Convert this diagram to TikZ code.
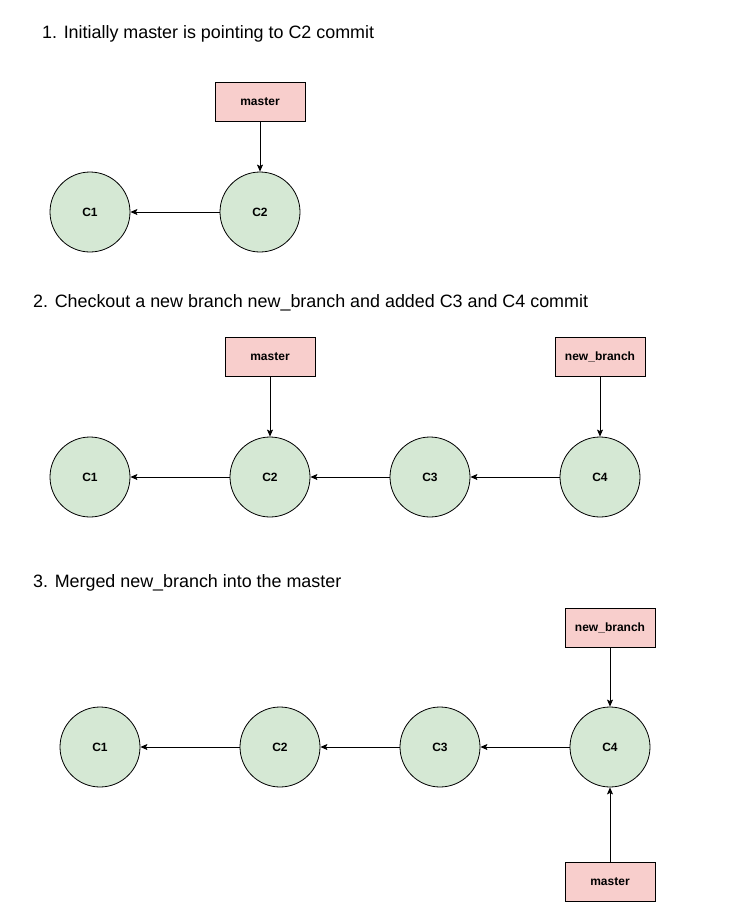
\documentclass[tikz,border=0pt]{standalone}
\usepackage{fontspec}
\setmainfont{Liberation Sans}
\usetikzlibrary{arrows.meta}
\definecolor{pinkfill}{HTML}{F8CECC}
\definecolor{greenfill}{HTML}{D5E8D4}
\begin{document}
\begin{tikzpicture}[x=1pt,y=-1pt,
  commit/.style={circle,draw=black,fill=greenfill,line width=0.8pt,minimum size=80pt,inner sep=0pt,font=\fontsize{12}{14}\selectfont\bfseries},
  branch/.style={rectangle,draw=black,fill=pinkfill,line width=0.8pt,minimum width=90pt,minimum height=39pt,inner sep=0pt,font=\fontsize{12}{14}\selectfont\bfseries},
  title/.style={anchor=west,inner sep=0pt,font=\fontsize{17.9}{21}\selectfont},
  link/.style={line width=0.8pt,-{Stealth[length=7pt,width=6pt,inset=1.5pt]}}]
\useasboundingbox (0,0) rectangle (731,922);
% Section 1
\node[title] (t1) at (42,33.5) {1. Initially master is pointing to C2 commit};
\node[branch] (m1) at (260,101.5) {master};
\node[commit] (a1) at (90,212) {C1};
\node[commit] (a2) at (260,212) {C2};
\draw[link] (a2) -- (a1);
\draw[link] (m1) -- (a2);
% Section 2
\node[title] (t2) at (33,302.5) {2. Checkout a new branch new\_branch and added C3 and C4 commit};
\node[branch] (m2) at (270,357) {master};
\node[branch] (n2) at (600,357) {new\_branch};
\node[commit] (b1) at (90,477) {C1};
\node[commit] (b2) at (270,477) {C2};
\node[commit] (b3) at (430,477) {C3};
\node[commit] (b4) at (600,477) {C4};
\draw[link] (b2) -- (b1);
\draw[link] (b3) -- (b2);
\draw[link] (b4) -- (b3);
\draw[link] (m2) -- (b2);
\draw[link] (n2) -- (b4);
% Section 3
\node[title] (t3) at (33,582.5) {3. Merged new\_branch into the master};
\node[branch] (n3) at (610,627.5) {new\_branch};
\node[commit] (c1) at (100,747) {C1};
\node[commit] (c2) at (280,747) {C2};
\node[commit] (c3) at (440,747) {C3};
\node[commit] (c4) at (610,747) {C4};
\node[branch] (m3) at (610,881.5) {master};
\draw[link] (c2) -- (c1);
\draw[link] (c3) -- (c2);
\draw[link] (c4) -- (c3);
\draw[link] (n3) -- (c4);
\draw[link] (m3) -- (c4);
\end{tikzpicture}
\end{document}
